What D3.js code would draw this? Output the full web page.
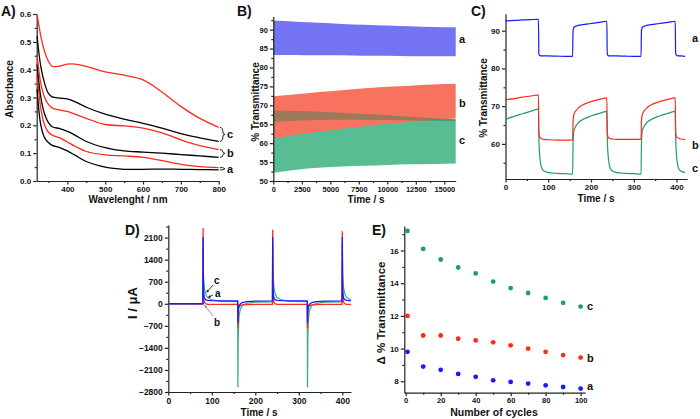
<!DOCTYPE html>
<html>
<head>
<meta charset="utf-8">
<script src="https://cdn.jsdelivr.net/npm/d3@7"></script>
<style>
  body { margin: 0; background: #fff; }
  svg text { font-family: "Liberation Sans", Arial, sans-serif; font-weight: bold; fill: #111; }
  .domain, .tick line { stroke: #222; stroke-width: 1.2; }
</style>
</head>
<body>
<svg width="700" height="419"></svg>
<script>
// ---- data A : absorbance spectra
const wavelengths = [320, 330, 340, 350, 360, 380, 400, 420, 450, 500, 550, 600, 650, 700, 750, 800];
const absRedC   = [0.60, 0.52, 0.465, 0.43, 0.412, 0.413, 0.42, 0.42, 0.412, 0.392, 0.38, 0.363, 0.32, 0.268, 0.225, 0.193];
const absBlackC = [0.52, 0.41, 0.35, 0.315, 0.302, 0.298, 0.295, 0.285, 0.265, 0.24, 0.222, 0.207, 0.19, 0.17, 0.155, 0.142];
const absRedB   = [0.45, 0.35, 0.30, 0.275, 0.262, 0.255, 0.25, 0.24, 0.225, 0.203, 0.198, 0.19, 0.173, 0.148, 0.127, 0.113];
const absBlackB = [0.42, 0.30, 0.24, 0.21, 0.195, 0.188, 0.178, 0.165, 0.142, 0.12, 0.108, 0.104, 0.10, 0.095, 0.09, 0.085];
const absRedA   = [0.38, 0.26, 0.20, 0.175, 0.165, 0.155, 0.14, 0.125, 0.106, 0.094, 0.09, 0.085, 0.073, 0.06, 0.052, 0.048];
const absBlackA = [0.33, 0.20, 0.155, 0.138, 0.128, 0.12, 0.108, 0.093, 0.07, 0.05, 0.042, 0.042, 0.043, 0.042, 0.041, 0.04];

// ---- data B : long-term cycling envelopes
const timeB = [0, 2000, 4000, 6000, 8000, 10000, 12000, 14000, 16000];
const blueHighB  = [92.4, 92.1, 91.8, 91.5, 91.3, 91.1, 90.9, 90.7, 90.6];
const blueLowB   = [83.3, 83.3, 83.2, 83.2, 83.1, 83.1, 83.0, 83.0, 83.0];
const redHighB   = [72.4, 72.9, 73.5, 74.0, 74.5, 74.9, 75.2, 75.5, 75.7];
const redLowB    = [61.2, 62.2, 63.0, 63.8, 64.5, 65.1, 65.6, 66.1, 66.5];
const greenHighB = [68.6, 68.5, 68.3, 68.0, 67.7, 67.4, 67.0, 66.6, 66.3];
const greenMidB  = [65.6, 65.9, 66.1, 66.2, 66.2, 66.1, 66.0, 65.9, 65.8];
const greenLowB  = [52.2, 53.0, 53.5, 53.8, 54.0, 54.2, 54.4, 54.5, 54.6];

// ---- data C : first cycles
const timeC = [0, 20, 40, 60, 77, 78, 80, 85, 90, 100, 120, 140, 157, 158, 160, 165, 170, 180, 200, 220, 237,
               238, 240, 245, 250, 260, 280, 300, 317, 318, 320, 325, 330, 340, 360, 380, 397, 398, 400, 405, 410, 420];
const blueC  = [92.6, 92.75, 92.85, 92.95, 93.0, 84.0, 83.4, 83.3, 83.3, 83.3, 83.25, 83.2, 83.2, 90.0, 90.9, 91.2, 91.4, 91.6, 91.9, 92.2, 92.5,
                84.0, 83.4, 83.3, 83.3, 83.3, 83.25, 83.2, 83.2, 90.0, 90.9, 91.2, 91.4, 91.6, 91.9, 92.2, 92.5, 84.0, 83.5, 83.3, 83.3, 83.2];
const redC   = [71.7, 72.0, 72.4, 72.7, 73.0, 63.0, 61.8, 61.3, 61.2, 61.1, 61.0, 61.0, 61.0, 66.0, 67.8, 68.8, 69.5, 70.3, 71.2, 71.8, 72.2,
                63.0, 61.8, 61.4, 61.3, 61.2, 61.2, 61.2, 61.2, 66.0, 67.8, 68.8, 69.5, 70.3, 71.2, 71.8, 72.2, 63.0, 61.8, 61.5, 61.3, 61.2];
const greenC = [66.5, 67.3, 68.0, 68.7, 69.2, 62.0, 57.0, 53.5, 52.8, 52.4, 52.2, 52.1, 52.0, 60.0, 63.5, 64.8, 65.6, 66.4, 67.4, 68.1, 68.6,
                62.0, 57.0, 53.5, 52.8, 52.4, 52.2, 52.1, 52.0, 60.0, 63.5, 64.8, 65.6, 66.4, 67.4, 68.1, 68.6, 62.0, 57.0, 53.5, 52.8, 52.4];

// ---- data D : current transients
const timeD = [0, 79.5, 80, 80.6, 81.5, 83, 86, 90, 100, 120, 159.5, 160, 160.6, 161.5, 163, 166, 170, 180, 200,
               239.5, 240, 240.6, 241.5, 243, 246, 250, 260, 280, 319.5, 320, 320.6, 321.5, 323, 326, 330, 340, 360,
               399.5, 400, 400.6, 401.5, 403, 406, 410, 420];
const redD   = [0, 0, 2400, 500, 150, 40, 0, -15, -20, -20, -20, -780, -300, -150, -80, -50, -35, -25, -20,
                -20, 2350, 500, 150, 40, 0, -15, -20, -20, -20, -780, -300, -150, -80, -50, -35, -25, -20,
                -20, 2300, 500, 150, 40, 0, -15, -20];
const greenD = [0, 0, 1900, 1000, 750, 500, 300, 200, 120, 80, 70, -2650, -1300, -700, -350, -150, -60, 10, 50,
                60, 1900, 1000, 750, 500, 300, 200, 120, 80, 70, -2650, -1300, -700, -350, -150, -60, 10, 50,
                60, 1900, 1000, 750, 500, 300, 200, 110];
const blueD  = [0, 0, 2120, 600, 300, 180, 130, 110, 100, 90, 90, -600, -250, -120, -50, 0, 40, 70, 85,
                90, 2120, 600, 300, 180, 130, 110, 100, 90, 90, -600, -250, -120, -50, 0, 40, 70, 85,
                90, 2120, 600, 300, 180, 130, 110, 95];

// ---- data E : contrast vs cycles
const cyclesE = [1, 10, 20, 30, 40, 50, 60, 70, 80, 90, 100];
const deltaA = [9.8, 8.9, 8.7, 8.45, 8.27, 8.06, 7.96, 7.86, 7.75, 7.65, 7.55];
const deltaB = [12.0, 10.8, 10.8, 10.6, 10.5, 10.38, 10.2, 10.0, 9.8, 9.6, 9.45];
const deltaC = [17.2, 16.1, 15.45, 14.96, 14.6, 14.1, 13.7, 13.4, 13.1, 12.8, 12.57];

const BLUE = '#1a1aff', RED = '#ff2a1a', GREEN = '#1f9e6c';

const svg = d3.select('svg');

// axes helper, origin-like: ticks outside, minor ticks
function axes(x, y, o) {
  const g = svg.append('g');
  const bottom = y.range()[0], left = x.range()[0];
  g.append('g').attr('transform', `translate(0,${bottom})`)
    .call(d3.axisBottom(x).tickValues(o.xMinor).tickSize(2).tickFormat('').tickSizeOuter(0))
    .call(a => a.select('.domain').remove());
  g.append('g').attr('transform', `translate(${left},0)`)
    .call(d3.axisLeft(y).tickValues(o.yMinor).tickSize(2).tickFormat('').tickSizeOuter(0))
    .call(a => a.select('.domain').remove());
  const xa = g.append('g').attr('transform', `translate(0,${bottom})`)
    .call(d3.axisBottom(x).tickValues(o.xMajor).tickSize(3.5).tickPadding(o.xPad || 2).tickSizeOuter(0).tickFormat(o.xFmt || d3.format('d')));
  const ya = g.append('g').attr('transform', `translate(${left},0)`)
    .call(d3.axisLeft(y).tickValues(o.yMajor).tickSize(3.5).tickPadding(2).tickSizeOuter(0).tickFormat(o.yFmt || d3.format('d')));
  xa.selectAll('text').style('font-size', (o.xFs || 8) + 'px');
  ya.selectAll('text').style('font-size', (o.yFs || 8) + 'px');
  g.selectAll('text').attr('fill', '#111').style('font-family', '"Liberation Sans", Arial, sans-serif').style('font-weight', 'bold');
}

function label(txt, x, y, size, anchor, rot) {
  const t = svg.append('text').text(txt).attr('font-size', size + 'px')
    .attr('text-anchor', anchor || 'start');
  if (rot) t.attr('transform', `translate(${x},${y}) rotate(-90)`);
  else t.attr('x', x).attr('y', y);
  return t;
}

// ================= Panel A
{
  const x = d3.scaleLinear().domain([319, 800]).range([36.7, 218.7]);
  const y = d3.scaleLinear().domain([0, 0.6]).range([181, 14]);
  axes(x, y, {
    xMajor: [400, 500, 600, 700, 800], xMinor: [350, 450, 550, 650, 750],
    yMajor: [0, 0.1, 0.2, 0.3, 0.4, 0.5, 0.6], yMinor: [0.05, 0.15, 0.25, 0.35, 0.45, 0.55],
    yFmt: d3.format('.1f')
  });
  const line = d3.line().x((d, i) => x(wavelengths[i])).y(d => y(d)).curve(d3.curveCatmullRom);
  [[absBlackA, '#000'], [absRedA, RED], [absBlackB, '#000'], [absRedB, RED], [absBlackC, '#000'], [absRedC, RED]]
    .forEach(([s, c]) => svg.append('path').attr('d', line(s)).attr('fill', 'none').attr('stroke', c).attr('stroke-width', 1.3));
  // braces + letters
  [[absRedC, absBlackC, 'c'], [absRedB, absBlackB, 'b'], [absRedA, absBlackA, 'a']].forEach(([r, k, l]) => {
    const y1 = y(r[r.length - 1]), y2 = y(k[k.length - 1]), m = (y1 + y2) / 2;
    svg.append('path')
      .attr('d', `M220,${y1} Q223,${y1} 223,${m - 1} L225,${m} L223,${m + 1} Q223,${y2} 220,${y2}`)
      .attr('fill', 'none').attr('stroke', '#222').attr('stroke-width', 1);
    label(l, 227, m + 4, 11);
  });
  label('Absorbance', 13, 89, 10, 'middle', true);
  label('Wavelenght / nm', 128, 203, 10, 'middle');
  label('A)', 1, 16, 14);
}

// ================= Panel B
{
  const x = d3.scaleLinear().domain([0, 16000]).range([273.3, 455.7]);
  const y = d3.scaleLinear().domain([50, 93.5]).range([181, 16.4]);
  const band = (hi, lo) => d3.area().x((d, i) => x(timeB[i])).y0((d, i) => y(lo[i])).y1(d => y(d)).curve(d3.curveMonotoneX)(hi);
  svg.append('path').attr('d', band(blueHighB, blueLowB)).attr('fill', '#7373f3');
  svg.append('path').attr('d', band(greenHighB, greenLowB)).attr('fill', '#58bd92');
  svg.append('path').attr('d', band(redHighB, redLowB)).attr('fill', '#f7735f');
  svg.append('path').attr('d', band(greenHighB, greenMidB)).attr('fill', '#2f7f56').attr('opacity', 0.45);
  axes(x, y, {
    xMajor: d3.range(0, 15001, 2500), xMinor: d3.range(1250, 16000, 2500),
    yMajor: d3.range(50, 91, 5), yMinor: d3.range(52.5, 93, 5), xFs: 7.5, yFs: 7.5
  });
  label('a', 459, 43, 11); label('b', 459, 107, 11); label('c', 459, 144, 11);
  label('% Transmittance', 259, 102, 10, 'middle', true);
  label('Time / s', 366, 203, 10, 'middle');
  label('B)', 237, 16, 14);
}

// ================= Panel C
{
  const x = d3.scaleLinear().domain([0, 425]).range([505.5, 687.2]);
  const y = d3.scaleLinear().domain([50.7, 94.5]).range([179, 13.7]);
  axes(x, y, {
    xMajor: [0, 100, 200, 300, 400], xMinor: [50, 150, 250, 350],
    yMajor: [60, 70, 80, 90], yMinor: [55, 65, 75, 85]
  });
  const line = d3.line().x((d, i) => x(timeC[i])).y(d => y(d)).curve(d3.curveMonotoneX);
  [[greenC, GREEN], [redC, RED], [blueC, BLUE]].forEach(([s, c]) =>
    svg.append('path').attr('d', line(s)).attr('fill', 'none').attr('stroke', c).attr('stroke-width', 1.2));
  label('a', 692, 42, 11); label('b', 692, 149, 11); label('c', 692, 172, 11);
  label('% Transmittance', 487, 98, 10, 'middle', true);
  label('Time / s', 596, 202, 10, 'middle');
  label('C)', 471, 16, 14);
}

// ================= Panel D
{
  const x = d3.scaleLinear().domain([0, 420]).range([168.3, 351]);
  const y = d3.scaleLinear().domain([-2800, 2500]).range([392, 225]);
  axes(x, y, {
    xMajor: [0, 100, 200, 300, 400], xMinor: [50, 150, 250, 350],
    yMajor: d3.range(-2800, 2101, 700), yMinor: d3.range(-2450, 2500, 700), yFs: 8.5, xFs: 8.5
  });
  const line = d3.line().x((d, i) => x(timeD[i])).y(d => y(d));
  [[greenD, '#3db083'], [redD, RED], [blueD, BLUE]].forEach(([s, c]) =>
    svg.append('path').attr('d', line(s)).attr('fill', 'none').attr('stroke', c).attr('stroke-width', 1.3));
  const arrow = (x1, y1, x2, y2, c) => {
    svg.append('line').attr('x1', x1).attr('y1', y1).attr('x2', x2).attr('y2', y2).attr('stroke', c).attr('stroke-width', 0.9);
    const a = Math.atan2(y2 - y1, x2 - x1), s = 3;
    svg.append('path').attr('d', `M${x2},${y2} L${x2 - s * Math.cos(a - 0.45)},${y2 - s * Math.sin(a - 0.45)} L${x2 - s * Math.cos(a + 0.45)},${y2 - s * Math.sin(a + 0.45)} Z`).attr('fill', c);
  };
  arrow(213, 285, 206.5, 292.5, '#222');
  arrow(213, 295, 208, 297.5, '#222');
  arrow(213, 316, 204.5, 305, '#888');
  label('c', 214, 284, 10); label('a', 215, 297, 10); label('b', 214, 326, 10);
  label('I / μA', 137, 303, 13, 'middle', true);
  label('Time / s', 259, 416, 10, 'middle');
  label('D)', 125, 235, 14);
}

// ================= Panel E
{
  const x = d3.scaleLinear().domain([-0.8, 102.5]).range([404.3, 585]);
  const y = d3.scaleLinear().domain([7.3, 17.5]).range([392.7, 226]);
  axes(x, y, {
    xMajor: [0, 20, 40, 60, 80, 100], xMinor: [10, 30, 50, 70, 90],
    yMajor: [8, 10, 12, 14, 16], yMinor: [9, 11, 13, 15, 17], xPad: 1, xFs: 7.5
  });
  [[deltaC, GREEN], [deltaB, RED], [deltaA, BLUE]].forEach(([s, c]) =>
    svg.append('g').selectAll('circle').data(s).join('circle')
      .attr('cx', (d, i) => x(cyclesE[i])).attr('cy', d => y(d)).attr('r', 2.4).attr('fill', c));
  label('c', 587, 310, 11); label('b', 587, 362, 11); label('a', 587, 390, 11);
  label('Δ % Transmittance', 385, 313, 11.5, 'middle', true);
  label('Number of cycles', 494, 416, 10.5, 'middle');
  label('E)', 372, 235, 14);
}
</script>
</body>
</html>
